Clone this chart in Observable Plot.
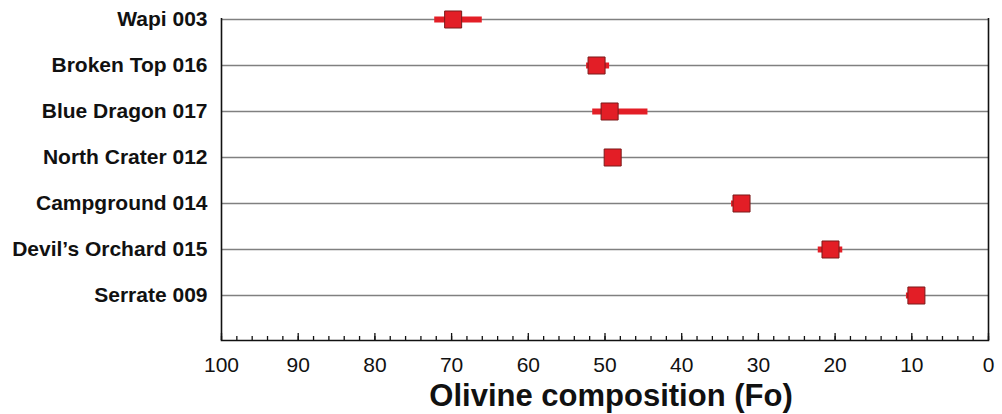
<!DOCTYPE html>
<html>
<head>
<meta charset="utf-8">
<script src="https://cdn.jsdelivr.net/npm/d3@7"></script>
<script src="https://cdn.jsdelivr.net/npm/@observablehq/plot@0.6"></script>
<style>
  html, body { margin: 0; padding: 0; background: #fff; }
  #chart svg { display: block; }
</style>
</head>
<body>
<div id="chart"></div>
<script>
const samples = ["Wapi 003", "Broken Top 016", "Blue Dragon 017", "North Crater 012", "Campground 014", "Devil’s Orchard 015", "Serrate 009"];
const foMean = [69.8, 51.1, 49.4, 49.0, 32.2, 20.6, 9.4];
const foMax  = [72.2, 52.4, 51.6, 49.0, 33.5, 22.2, 10.7];
const foMin  = [66.0, 49.4, 44.4, 49.0, 32.2, 19.0, 9.4];
const majorTicks = [100, 90, 80, 70, 60, 50, 40, 30, 20, 10, 0];
const minorTicks = d3.range(0, 101, 2);
const axisTitle = "Olivine composition (Fo)";

const data = samples.map((s, i) => ({sample: s, mean: foMean[i], lo: foMin[i], hi: foMax[i]}));

const red = "#e31e26";
const dark = "#7a1a1a";

const chart = Plot.plot({
  width: 1002,
  height: 414,
  marginLeft: 221,
  marginRight: 14,
  marginTop: 18,
  marginBottom: 74,
  style: {fontFamily: "'Liberation Sans', Arial, sans-serif", background: "#fff"},
  x: {domain: [100, 0], label: null},
  y: {type: "point", domain: samples, range: [18, 296], padding: 0, label: null},
  marks: [
    Plot.ruleY(samples, {y: d => d, stroke: "#808080", strokeWidth: 1.3}),
    Plot.ruleX([100, 0], {stroke: "#111", strokeWidth: 1.6}),
    Plot.frame({anchor: "bottom", stroke: "#111", strokeWidth: 1.6}),
    Plot.axisX({ticks: minorTicks, tickSize: -4, tickFormat: () => "", strokeWidth: 1.3, stroke: "#111"}),
    Plot.axisX({ticks: majorTicks, tickSize: -7, tickFormat: () => "", strokeWidth: 1.3, stroke: "#111"}),
    Plot.axisX({ticks: majorTicks, tickSize: 0, tickPadding: 17, fontSize: 21, fill: "#111", label: null}),
    Plot.axisY({tickSize: 0, tickPadding: 14, fontSize: 21, fontWeight: "bold", fill: "#111", label: null}),
    Plot.ruleY(data, {y: "sample", x1: "lo", x2: "hi", stroke: red, strokeWidth: 6}),
    Plot.dot(data, {x: "mean", y: "sample", symbol: "square", r: 9.6, fill: red, stroke: dark, strokeWidth: 1}),
    Plot.text([axisTitle], {frameAnchor: "bottom", text: d => d, dy: 56, dx: 6, fontSize: 31, fontWeight: "bold", fill: "#111", lineAnchor: "middle"})
  ]
});
document.getElementById("chart").appendChild(chart);
</script>
</body>
</html>
